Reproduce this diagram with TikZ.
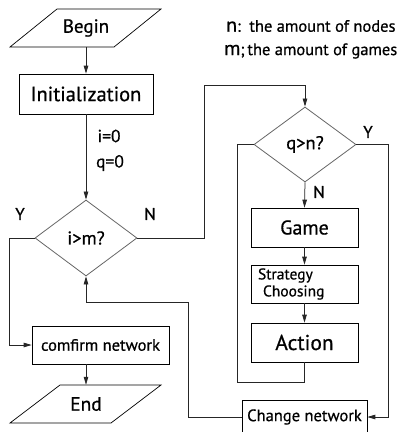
\documentclass[tikz,border=0pt]{standalone}
\usepackage{fontspec}
\setmainfont{PT Sans}[BoldFont={PT Sans},BoldFeatures={FakeBold=0.6}]
\usetikzlibrary{shapes.geometric,arrows.meta}
\tikzset{
  box/.style={draw=black,line width=0.7pt,rectangle,inner sep=0pt},
  dec/.style={draw=black!60,line width=0.8pt,diamond,inner sep=0pt,minimum width=102pt,minimum height=76pt},
  io/.style={rectangle,inner sep=0pt},
  lab/.style={inner sep=0pt},
  conn/.style={line width=0.75pt,draw=black!85},
  arr/.style={conn,-{Triangle[length=8pt,width=4.5pt]}},
  every node/.append style={font=\bfseries},
}
\newcommand{\fs}[1]{\fontsize{#1}{#1}\selectfont\bfseries}
\begin{document}
\begin{tikzpicture}[x=1pt,y=-1pt]
\useasboundingbox[fill=white] (0,0) rectangle (399,432);
% Begin
\draw[line width=0.7pt] (10,47) -- (114,47) -- (161,9) -- (57,9) -- cycle;
\node[io,minimum width=104pt,minimum height=38pt,font=\fs{19}] (begin) at (86,28) {Begin};
\node[box,minimum width=134pt,minimum height=40pt,font=\fs{20.5}] (init) at (86,94) {Initialization};
\node[dec,font=\fs{18.5}] (dm) at (86,238) {i>m?};
\node[box,minimum width=137pt,minimum height=38pt,font=\fs{16.5}] (conf) at (100.5,345) {comfirm network};
% End
\draw[line width=0.7pt] (10,423) -- (111,423) -- (161,385) -- (60,385) -- cycle;
\node[io,minimum width=100pt,minimum height=38pt,font=\fs{19.5}] (end) at (86,404) {End};
\node[dec,minimum height=75pt,font=\fs{18.5}] (dq) at (305,144.5) {q>n?};
\node[box,minimum width=107pt,minimum height=39pt,font=\fs{20}] (game) at (304.5,227.5) {Game};
\node[box,minimum width=107pt,minimum height=38pt,text width=93pt,align=left,font={\fontsize{15.5}{17}\selectfont\bfseries}] (strat) at (304.5,284) {Strategy\\\hspace*{5pt}Choosing};
\node[box,minimum width=107pt,minimum height=39pt,font=\fs{21.5}] (action) at (304.5,342.5) {Action};
\node[box,minimum width=125pt,minimum height=34pt,font=\fs{16.5}] (change) at (304.5,417) {Change network};
% labels
\node[lab,font=\fs{17.5}] (i0) at (109,136) {i=0};
\node[lab,font=\fs{17.5}] (q0) at (110,163) {q=0};
\node[lab,font=\fs{17}] (y1) at (20,214) {Y};
\node[lab,font=\fs{17}] (n1) at (150,214) {N};
\node[lab,font=\fs{17}] (y2) at (368,132) {Y};
\node[lab,font=\fs{17}] (n2) at (319,192) {N};
\node[lab,anchor=west,font=\fs{16.5}] (legn) at (226,26) {{\fs{20}n}:\, the amount of nodes};
\node[lab,anchor=west,font=\fs{16.5}] (legm) at (224,51) {{\fs{20}m};\,the amount of games};
% connectors
\draw[arr] (begin.south) -- (init.north);
\draw[arr] (init.south) -- (dm.north);
\draw[arr] (dm.west) -- (9,238) -- (9,345) -- (conf.west);
\draw[arr] (conf.south -| end) -- (end.north);
\draw[arr] (dm.east) -- (204,238) -- (204,85) -- (305,85) -- (dq.north);
\draw[arr] (dq.south) -- (game.north);
\draw[arr] (game.south) -- (strat.north);
\draw[arr] (strat.south) -- (action.north);
\draw[conn] (action.south) -- (304.5,382) -- (237,382) -- (237,144.5) -- (dq.west);
\draw[arr] (dq.east) -- (388,144.5) -- (388,417) -- (change.east);
\draw[arr] (change.west) -- (188,417) -- (188,302) -- (86,302) -- (dm.south);
\end{tikzpicture}
\end{document}
